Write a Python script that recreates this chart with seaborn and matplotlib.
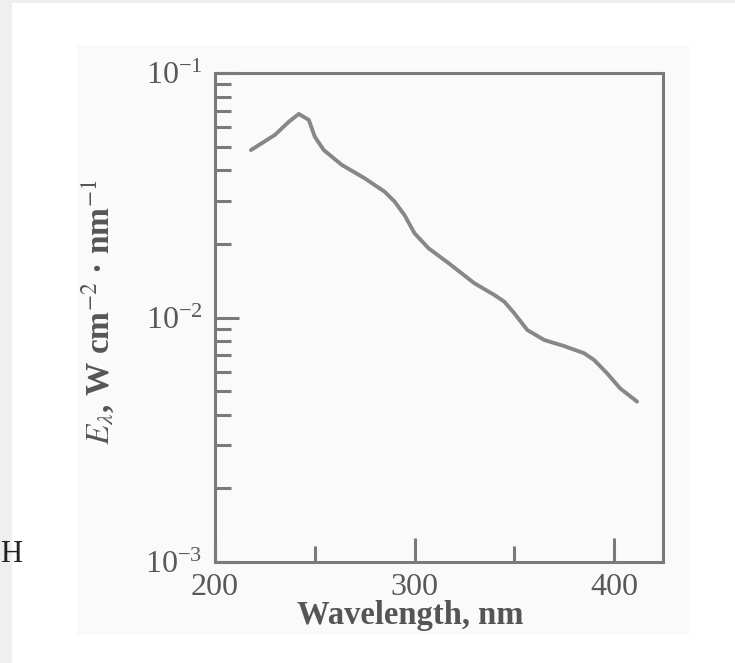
import numpy as np
import pandas as pd
import matplotlib
matplotlib.use("Agg")
import matplotlib.pyplot as plt
import matplotlib.patches as mpatches
from matplotlib.ticker import LogLocator, FixedLocator, NullFormatter
import seaborn as sns

# Spectral irradiance vs wavelength
wavelength_nm = [218, 230, 237, 242, 247, 250, 254.5, 263.5, 275, 285, 290, 295,
                 300, 307, 317, 330, 340, 345, 350, 356.5, 365, 375, 385, 390,
                 396.5, 403, 411.5]
irradiance = [0.0484, 0.0558, 0.0632, 0.0680, 0.0643, 0.0549, 0.0484, 0.0421,
              0.0371, 0.0327, 0.0298, 0.0262, 0.0221, 0.0192, 0.0167, 0.0138,
              0.01236, 0.0116, 0.0104, 0.00889, 0.00809, 0.00764, 0.00714,
              0.00670, 0.00591, 0.00513, 0.00453]

x_major = [200, 300, 400]
x_minor = [250, 350]
x_tick_labels = ["200", "300", "400"]

df = pd.DataFrame({"wavelength": wavelength_nm, "E": irradiance})

sns.set_theme(style="white")
plt.rcParams["font.family"] = ["Liberation Serif", "DejaVu Serif"]
plt.rcParams["mathtext.fontset"] = "stix"

W, H = 735, 663
fig = plt.figure(figsize=(W / 100, H / 100), dpi=100, facecolor="white")

# page background pieces
for (x0, y0, w, h, c) in [(0, 0, 12, H, "#eef0f0"),
                          (0, 0, W, 3, "#eef0f0"),
                          (77, 45, 613, 590, "#fafafa")]:
    fig.patches.append(mpatches.Rectangle((x0 / W, 1 - (y0 + h) / H), w / W, h / H,
                                          transform=fig.transFigure, facecolor=c,
                                          edgecolor="none", zorder=-5))
fig.text(0.5 / W, 1 - 554 / H, "H", fontsize=22, color="#222222", va="center", ha="left",
         family=["Liberation Serif"])

ax = fig.add_axes([215 / W, 1 - 562 / H, (663 - 215) / W, (562 - 73) / H])
ax.set_zorder(2)
ax.set_facecolor("#fafafa")

sns.lineplot(data=df, x="wavelength", y="E", ax=ax, color="#878787", linewidth=2.8)

ax.set_yscale("log")
ax.set_xlim(200, 424.5)
ax.set_ylim(1e-3, 1e-1)

gray = "#7a7a7a"
for s in ax.spines.values():
    s.set_color(gray)
    s.set_linewidth(2.2)

ax.xaxis.set_major_locator(FixedLocator(x_major))
ax.xaxis.set_minor_locator(FixedLocator(x_minor))
ax.set_xticklabels(x_tick_labels)
ax.yaxis.set_major_locator(LogLocator(base=10, numticks=5))
ax.yaxis.set_minor_locator(LogLocator(base=10, subs=np.arange(2, 10), numticks=20))
ax.yaxis.set_minor_formatter(NullFormatter())

ax.tick_params(axis="both", which="both", direction="in", colors=gray,
               labelcolor="#595959", top=False, right=False, left=True, bottom=True)
ax.tick_params(axis="both", which="major", length=17, width=2.2, labelsize=23, pad=9)
ax.tick_params(axis="x", which="major", pad=8)
ax.tick_params(axis="both", which="minor", length=11.5, width=2.2)

ax.set_xlabel("Wavelength, nm", fontsize=23.5, color="#555555", fontweight="bold")
ax.xaxis.set_label_coords(0.435, -0.078)
ax.set_ylabel(r"$E_\lambda$, W cm$^{-2}$ · nm$^{-1}$", fontsize=24, color="#555555",
              fontweight="bold")
ax.yaxis.set_label_coords(-0.222, 0.51)

fig.savefig("out.png", dpi=100, facecolor=fig.get_facecolor())
